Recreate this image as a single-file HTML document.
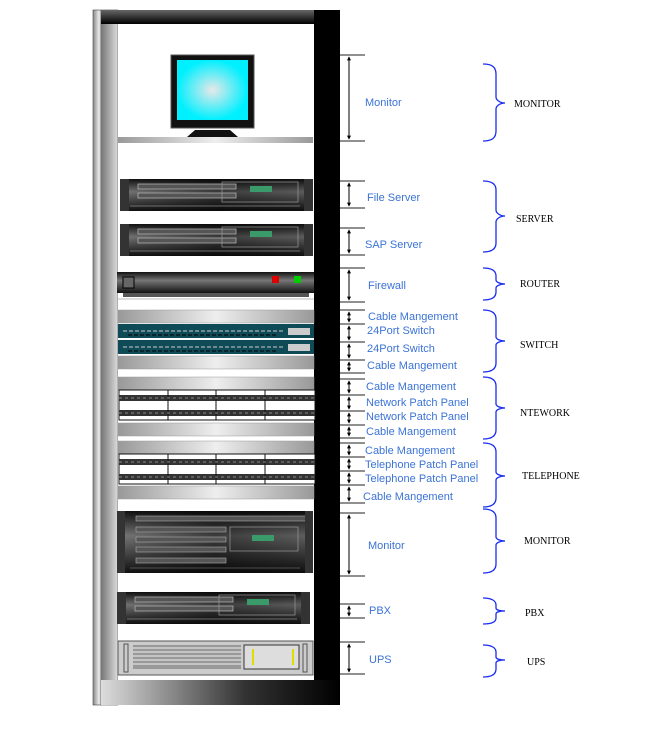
<!DOCTYPE html>
<html><head><meta charset="utf-8"><style>body{margin:0;background:#fff}svg{display:block}</style></head><body>
<svg width="655" height="737" viewBox="0 0 655 737" xmlns="http://www.w3.org/2000/svg" font-family="Liberation Sans, sans-serif">
<defs>
<marker id="ah" viewBox="0 0 6 6" refX="5" refY="3" markerWidth="4" markerHeight="4" orient="auto-start-reverse"><path d="M0,0 L6,3 L0,6 Z" fill="#000"/></marker>
<linearGradient id="lp" x1="0" x2="1"><stop offset="0" stop-color="#888"/><stop offset="0.25" stop-color="#eee"/><stop offset="0.33" stop-color="#777"/><stop offset="1" stop-color="#ddd"/></linearGradient>
<linearGradient id="tb" x1="0" x2="0" y1="0" y2="1"><stop offset="0" stop-color="#666"/><stop offset="1" stop-color="#000"/></linearGradient>
<linearGradient id="base" x1="0" x2="1"><stop offset="0" stop-color="#ddd"/><stop offset="0.6" stop-color="#333"/><stop offset="1" stop-color="#000"/></linearGradient>
<linearGradient id="sh" x1="0" x2="1"><stop offset="0" stop-color="#999"/><stop offset="0.5" stop-color="#eee"/><stop offset="1" stop-color="#999"/></linearGradient>
<linearGradient id="srv" x1="0" x2="0" y1="0" y2="1"><stop offset="0" stop-color="#111"/><stop offset="0.4" stop-color="#777"/><stop offset="1" stop-color="#111"/></linearGradient>
<linearGradient id="srvh" x1="0" x2="1"><stop offset="0" stop-color="#000" stop-opacity="0"/><stop offset="0.5" stop-color="#000" stop-opacity="0.5"/><stop offset="1" stop-color="#000" stop-opacity="0.2"/></linearGradient>
<radialGradient id="scr"><stop offset="0" stop-color="#e8e8e8"/><stop offset="1" stop-color="#00f0ff"/></radialGradient>
<g id="s2">
<rect x="0" y="0" width="193" height="32" fill="url(#srv)"/>
<rect x="0" y="0" width="193" height="32" fill="url(#srvh)"/>
<rect x="18" y="5" width="98" height="5" fill="#555" stroke="#bbb" stroke-width="0.7"/>
<rect x="18" y="14" width="98" height="5" fill="#555" stroke="#bbb" stroke-width="0.7"/>
<rect x="102" y="3" width="76" height="20" fill="none" stroke="#999" stroke-width="0.7"/>
<rect x="130" y="7" width="22" height="6" fill="#3a9a6a"/>
<line x1="10" y1="27" x2="180" y2="27" stroke="#888" stroke-width="0.7"/>
<rect x="0" y="0" width="9" height="32" fill="#333"/><rect x="184" y="0" width="9" height="32" fill="#333"/>
</g>
<g id="cm"><rect x="0" y="0" width="196" height="13" fill="url(#sh)" stroke="#999" stroke-width="0.5"/></g>
<g id="pp">
<rect x="0" y="0" width="196" height="30" fill="#fff" stroke="#111"/>
<rect x="0" y="5" width="196" height="6" fill="#333"/><rect x="0" y="20" width="196" height="6" fill="#333"/>
<line x1="49" y1="0" x2="49" y2="30" stroke="#111"/><line x1="97" y1="0" x2="97" y2="30" stroke="#111"/><line x1="146" y1="0" x2="146" y2="30" stroke="#111"/>
<line x1="0" y1="8" x2="196" y2="8" stroke="#888" stroke-dasharray="3 3"/><line x1="0" y1="23" x2="196" y2="23" stroke="#888" stroke-dasharray="3 3"/>
</g>
<g id="sw">
<rect x="0" y="0" width="196" height="14" fill="#0f4a57"/>
<line x1="5" y1="7" x2="165" y2="7" stroke="#ccc" stroke-dasharray="4 2"/>
<line x1="10" y1="11" x2="160" y2="11" stroke="#000" stroke-dasharray="4 2"/>
<rect x="170" y="4" width="22" height="7" fill="#ccc"/>
</g>
</defs>

<rect x="93" y="10" width="25" height="695" fill="url(#lp)" stroke="#444" stroke-width="0.6"/>
<rect x="118" y="24" width="196" height="656" fill="#fff"/>
<rect x="101" y="10" width="239" height="14" fill="url(#tb)"/>
<rect x="314" y="10" width="26" height="695" fill="#000"/>
<rect x="101" y="680" width="239" height="25" fill="url(#base)"/>

<rect x="171" y="55" width="83" height="73" fill="#111" stroke="#555"/>
<rect x="177" y="60" width="71" height="60" fill="url(#scr)"/>
<path d="M187,137 L195,130 L230,130 L238,137 Z" fill="#111"/>
<rect x="118" y="137" width="195" height="6" fill="url(#sh)"/>

<use href="#s2" x="120" y="179"/>
<use href="#s2" x="120" y="224"/>
<rect x="117" y="272" width="197" height="21" fill="url(#srv)"/>
<rect x="123" y="277" width="11" height="11" fill="#666" stroke="#000"/>
<rect x="272" y="276" width="7" height="7" fill="#d00"/><rect x="294" y="276" width="7" height="7" fill="#0c0"/>
<rect x="123" y="293" width="186" height="4" fill="#555"/>
<line x1="118" y1="299" x2="314" y2="299" stroke="#bbb"/>

<use href="#cm" x="118" y="310"/>
<use href="#sw" x="118" y="324"/>
<use href="#sw" x="118" y="340"/>
<use href="#cm" x="118" y="356"/>
<use href="#cm" x="118" y="377"/>
<use href="#pp" x="119" y="390"/>
<use href="#cm" x="118" y="423"/>
<use href="#cm" x="118" y="441"/>
<use href="#pp" x="119" y="454"/>
<use href="#cm" x="118" y="486"/>

<rect x="120" y="511" width="190" height="62" fill="url(#srv)"/>
<rect x="120" y="511" width="190" height="62" fill="url(#srvh)"/>
<rect x="136" y="516" width="170" height="5" fill="#555" stroke="#aaa" stroke-width="0.6"/>
<rect x="136" y="527" width="90" height="5" fill="#555" stroke="#aaa" stroke-width="0.6"/>
<rect x="136" y="537" width="90" height="5" fill="#555" stroke="#aaa" stroke-width="0.6"/>
<rect x="136" y="547" width="90" height="5" fill="#555" stroke="#aaa" stroke-width="0.6"/>
<rect x="136" y="558" width="90" height="5" fill="#555" stroke="#aaa" stroke-width="0.6"/>
<rect x="230" y="527" width="68" height="24" fill="none" stroke="#999" stroke-width="0.7"/>
<rect x="252" y="535" width="22" height="6" fill="#3a9a6a"/>
<line x1="130" y1="568" x2="300" y2="568" stroke="#888" stroke-width="0.6"/>
<rect x="117" y="511" width="8" height="62" fill="#333"/><rect x="305" y="511" width="8" height="62" fill="#333"/>

<use href="#s2" x="117" y="592"/>
<rect x="118" y="641" width="195" height="34" fill="#ccc" stroke="#555"/>
<rect x="133" y="645" width="108" height="24" fill="#999"/>
<g stroke="#eee" stroke-width="1"><line x1="133" y1="648" x2="241" y2="648"/><line x1="133" y1="652" x2="241" y2="652"/><line x1="133" y1="656" x2="241" y2="656"/><line x1="133" y1="660" x2="241" y2="660"/><line x1="133" y1="664" x2="241" y2="664"/></g>
<rect x="244" y="645" width="55" height="24" fill="#ddd" stroke="#333"/>
<rect x="252" y="649" width="2" height="16" fill="#dd0"/><rect x="292" y="649" width="2" height="16" fill="#dd0"/>
<rect x="124" y="644" width="4" height="28" fill="none" stroke="#555"/><rect x="303" y="644" width="4" height="28" fill="none" stroke="#555"/>

<g stroke="#222" stroke-width="1">
<path d="M340,55H365M340,141H365M340,181H365M340,208H365M340,228H365M340,255H365M340,268H365M340,302H365"/>
<path d="M340,310H365M340,324H365M340,342H365M340,360H365M340,373H365M340,379H365M340,395H365M340,411H365M340,425H365M340,438H365"/>
<path d="M340,443H365M340,457H365M340,471H365M340,485H365M340,503H365M340,513H365M340,576H365M340,604H365M340,618H365M340,642H365M340,674H365"/>
</g>
<g stroke="#000" stroke-width="1" marker-start="url(#ah)" marker-end="url(#ah)">
<line x1="349" y1="57" x2="349" y2="139"/><line x1="349" y1="183" x2="349" y2="206"/><line x1="349" y1="230" x2="349" y2="253"/><line x1="349" y1="270" x2="349" y2="300"/>
<line x1="349" y1="312" x2="349" y2="322"/><line x1="349" y1="326" x2="349" y2="340"/><line x1="349" y1="344" x2="349" y2="358"/><line x1="349" y1="362" x2="349" y2="371"/>
<line x1="349" y1="381" x2="349" y2="393"/><line x1="349" y1="397" x2="349" y2="409"/><line x1="349" y1="413" x2="349" y2="423"/><line x1="349" y1="427" x2="349" y2="436"/>
<line x1="349" y1="445" x2="349" y2="455"/><line x1="349" y1="459" x2="349" y2="469"/><line x1="349" y1="473" x2="349" y2="483"/><line x1="349" y1="487" x2="349" y2="501"/>
<line x1="349" y1="515" x2="349" y2="574"/><line x1="349" y1="606" x2="349" y2="616"/><line x1="349" y1="644" x2="349" y2="672"/>
</g>

<g fill="#3b73d6" font-size="11">
<text x="365" y="106">Monitor</text>
<text x="367" y="201">File Server</text>
<text x="365" y="248">SAP Server</text>
<text x="368" y="289">Firewall</text>
<text x="368" y="320">Cable Mangement</text>
<text x="367" y="334">24Port Switch</text>
<text x="367" y="352">24Port Switch</text>
<text x="367" y="369">Cable Mangement</text>
<text x="366" y="390">Cable Mangement</text>
<text x="366" y="406">Network Patch Panel</text>
<text x="366" y="420">Network Patch Panel</text>
<text x="366" y="435">Cable Mangement</text>
<text x="365" y="454">Cable Mangement</text>
<text x="365" y="468">Telephone Patch Panel</text>
<text x="365" y="482">Telephone Patch Panel</text>
<text x="363" y="500">Cable Mangement</text>
<text x="368" y="549">Monitor</text>
<text x="369" y="614">PBX</text>
<text x="369" y="663">UPS</text>
</g>

<g fill="none" stroke="#1a2cf0" stroke-width="1.3">
<path d="M483,64 C492,64 496,67 496,74 V97 C496,100 500,103 505,103 C500,103 496,106 496,109 V131 C496,138 492,141 483,141"/>
<path d="M483,181 C492,181 496,184 496,190 V210 C496,213 500,216 505,216 C500,216 496,219 496,222 V243 C496,249 492,252 483,252"/>
<path d="M483,268 C492,268 496,271 496,276 V280 C496,282 500,284 505,284 C500,284 496,286 496,288 V292 C496,297 492,300 483,300"/>
<path d="M483,310 C492,310 496,313 496,319 V337 C496,339 500,341 505,341 C500,341 496,343 496,345 V363 C496,369 492,372 483,372"/>
<path d="M483,377 C492,377 496,380 496,386 V404 C496,406 500,408 505,408 C500,408 496,410 496,412 V430 C496,436 492,439 483,439"/>
<path d="M483,443 C492,443 496,446 496,452 V472 C496,474 500,476 505,476 C500,476 496,478 496,480 V498 C496,504 492,507 483,507"/>
<path d="M483,509 C492,509 496,512 496,518 V537 C496,539 500,541 505,541 C500,541 496,543 496,545 V564 C496,570 492,573 483,573"/>
<path d="M483,598 C492,598 496,601 496,605 V608 C496,610 500,611 505,611 C500,611 496,612 496,614 V618 C496,622 492,624 483,624"/>
<path d="M483,645 C492,645 496,648 496,652 V657 C496,659 500,660 505,660 C500,660 496,661 496,663 V669 C496,674 492,677 483,677"/>
</g>

<g fill="#000" font-family="Liberation Serif, serif" font-size="10">
<text x="514" y="107">MONITOR</text>
<text x="516" y="222">SERVER</text>
<text x="520" y="287">ROUTER</text>
<text x="520" y="348">SWITCH</text>
<text x="520" y="416">NTEWORK</text>
<text x="522" y="479">TELEPHONE</text>
<text x="524" y="544">MONITOR</text>
<text x="525" y="616">PBX</text>
<text x="527" y="665">UPS</text>
</g>
</svg>
</body></html>
